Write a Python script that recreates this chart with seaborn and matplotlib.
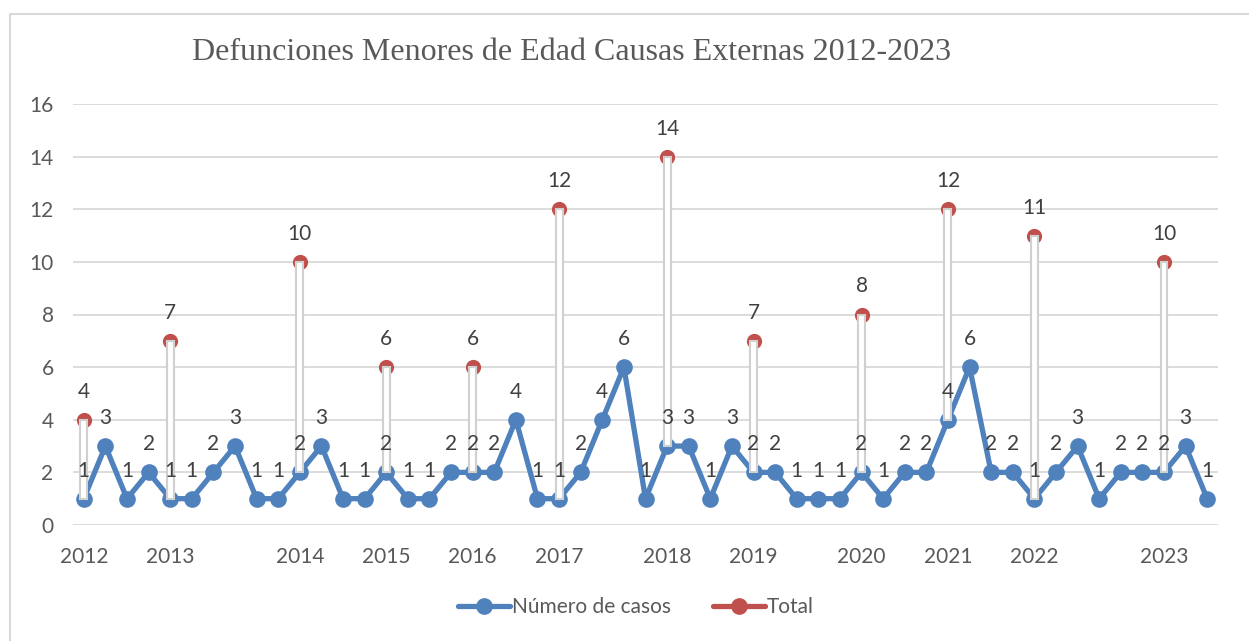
import numpy as np
import matplotlib
matplotlib.use("Agg")
import matplotlib.pyplot as plt
import seaborn as sns
import pandas as pd
from matplotlib.lines import Line2D

# Número de casos (one point per record, in order)
casos = [1, 3, 1, 2, 1, 1, 2, 3, 1, 1, 2, 3, 1, 1, 2, 1, 1, 2, 2, 2, 4, 1, 1, 2, 4, 6,
         1, 3, 3, 1, 3, 2, 2, 1, 1, 1, 2, 1, 2, 2, 4, 6, 2, 2, 1, 2, 3, 1, 2, 2, 2, 3, 1]
# yearly totals, placed on the first point of each year
years = ["2012", "2013", "2014", "2015", "2016", "2017", "2018", "2019", "2020", "2021", "2022", "2023"]
year_start = [0, 4, 10, 14, 18, 22, 27, 31, 36, 40, 44, 50]
totales = [4, 7, 10, 6, 6, 12, 14, 7, 8, 12, 11, 10]

blue = "#4F81BD"
red = "#C0504D"
txt = "#595959"
lbl = "#404040"

sns.set_style("white")
plt.rcParams['font.family'] = ['Lato', 'DejaVu Sans']

df = pd.DataFrame({"idx": np.arange(len(casos)), "casos": casos})
tot = pd.DataFrame({"idx": year_start, "total": totales,
                    "base": [casos[i] for i in year_start]})

fig = plt.figure(figsize=(12.49, 6.41), dpi=100)
ax = fig.add_axes([73 / 1249, 116 / 641, (1218 - 73) / 1249, (525 - 104) / 641])

sns.lineplot(data=df, x="idx", y="casos", ax=ax, color=blue, linewidth=3.8,
             marker="o", markersize=12, markeredgewidth=0, zorder=3)
sns.scatterplot(data=tot, x="idx", y="total", ax=ax, color=red, s=120,
                linewidth=0, zorder=3)

# high-low bars between casos and total
ax.bar(tot["idx"], tot["total"] - tot["base"], bottom=tot["base"], width=0.32,
       color="white", edgecolor="#D0D0D0", linewidth=1.5, zorder=4)

for i, v in zip(df["idx"], df["casos"]):
    ax.annotate(str(v), (i, v), xytext=(0, 13), textcoords="offset points",
                ha="center", va="bottom", fontsize=15, color=lbl, zorder=6)
for i, v in zip(tot["idx"], tot["total"]):
    ax.annotate(str(v), (i, v), xytext=(0, 13), textcoords="offset points",
                ha="center", va="bottom", fontsize=15, color=lbl, zorder=6)

ax.set_xlim(-0.5, len(casos) - 0.5)
ax.set_ylim(0, 16)
ax.set_yticks(range(0, 17, 2))
ax.set_xticks(year_start)
ax.set_xticklabels(years)
ax.yaxis.grid(True, color="#D9D9D9", linewidth=1.3)
ax.set_axisbelow(True)
for s in ax.spines.values():
    s.set_visible(False)
ax.tick_params(axis="x", length=0, pad=16, labelsize=15, labelcolor=txt)
ax.tick_params(axis="y", length=0, pad=14, labelsize=15, labelcolor=txt)
ax.set_xlabel("")
ax.set_ylabel("")
if ax.get_legend():
    ax.get_legend().remove()

fig.text(572 / 1249, 1 - 52 / 641, "Defunciones Menores de Edad Causas Externas 2012-2023",
         ha="center", va="center", fontsize=23, color=txt, family="Liberation Serif")

handles = [Line2D([], [], color=blue, linewidth=3.8, marker="o", markersize=11),
           Line2D([], [], color=red, linewidth=3.8, marker="o", markersize=11)]
fig.legend(handles, ["Número de casos", "Total"], loc="center", ncol=2,
           bbox_to_anchor=(636 / 1249, 1 - 607 / 641), frameon=False,
           fontsize=15, labelcolor=txt, handlelength=2.5, handletextpad=0.1,
           columnspacing=2.0)

# outer chart border (top and left visible)
fig.add_artist(Line2D([10 / 1249, 10 / 1249, 1], [0, 1 - 14 / 641, 1 - 14 / 641],
                      color="#D9D9D9", linewidth=1.5, transform=fig.transFigure))

fig.savefig("out.png", dpi=100)
